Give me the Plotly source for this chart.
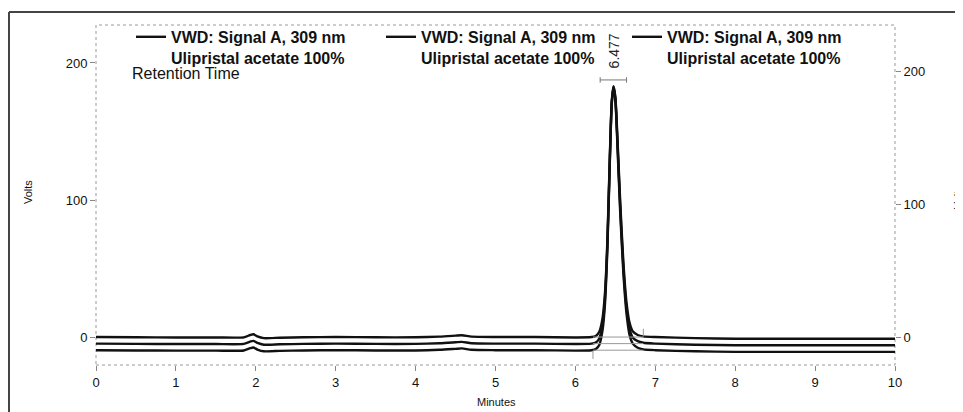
import plotly.graph_objects as go

# ---------------- data ----------------
time_min = [0.0, 0.5, 1.0, 1.5, 1.85, 1.93, 1.97, 2.02, 2.1, 2.3, 2.6, 3.0, 3.5, 4.0,
            4.3, 4.5, 4.58, 4.7, 5.0, 5.5, 6.0, 6.2, 6.26, 6.3, 6.34, 6.37, 6.40, 6.43,
            6.455, 6.477, 6.50, 6.53, 6.56, 6.60, 6.64, 6.68, 6.72, 6.78, 6.85, 7.0,
            7.5, 8.0, 9.0, 10.0]

signal_1 = [0.0, -0.2, -0.3, -0.3, -0.2, 1.5, 2.0, 0.5, -0.8, -0.5, -0.2, 0.0, -0.2, -0.2,
            0.3, 1.0, 1.3, 0.3, 0.0, 0.0, -0.3, 0.0, 1.0, 4.0, 14.0, 32.0, 70.0, 130.0,
            172.0, 183.0, 175.0, 140.0, 100.0, 55.0, 25.0, 10.0, 4.0, 1.5, 0.5, 0.0,
            -0.8, -1.2, -1.2, -1.2]

signal_2 = [-4.8, -5.0, -5.1, -5.1, -5.0, -3.3, -2.8, -4.3, -5.6, -5.3, -5.0, -4.8, -5.0, -5.0,
            -4.5, -3.8, -3.5, -4.5, -4.8, -4.8, -5.1, -4.8, -3.8, -0.8, 9.5, 28.0, 67.0, 128.0,
            171.0, 182.5, 174.0, 137.0, 96.0, 51.0, 21.0, 5.5, -0.5, -3.0, -4.2, -4.8,
            -5.6, -6.0, -6.0, -6.0]

signal_3 = [-9.6, -9.8, -9.9, -9.9, -9.8, -8.1, -7.6, -9.1, -10.4, -10.1, -9.8, -9.6, -9.8, -9.8,
            -9.3, -8.6, -8.3, -9.3, -9.6, -9.6, -9.9, -9.6, -8.6, -5.6, 5.0, 24.0, 64.0, 126.0,
            170.0, 182.0, 173.0, 134.0, 92.0, 47.0, 17.0, 1.0, -5.0, -7.8, -9.0, -9.6,
            -10.4, -10.8, -10.8, -10.8]

series_names = ["VWD: Signal A, 309 nm<br>Ulipristal acetate 100%"] * 3
peak_label = "6.477"
peak_time = 6.477
peak_bar = [6.31, 6.64]          # retention-time marker bar
integration_start, integration_end = 6.22, 6.85
x_ticks = [0, 1, 2, 3, 4, 5, 6, 7, 8, 9, 10]
y_ticks = [0, 100, 200]

FONT = "Liberation Sans, Arial, sans-serif"

fig = go.Figure()

legend_ids = ["legend", "legend2", "legend3"]
for sig, name, lg in zip([signal_1, signal_2, signal_3], series_names, legend_ids):
    fig.add_trace(go.Scatter(
        x=time_min, y=sig, mode="lines", name=name, legend=lg,
        line=dict(color="#111111", width=2.4, shape="spline", smoothing=0.6),
        hoverinfo="skip",
    ))

# invisible trace to attach the right-hand axis
fig.add_trace(go.Scatter(x=[0], y=[0], yaxis="y2", mode="markers",
                         marker=dict(opacity=0), showlegend=False, hoverinfo="skip"))

# integration baselines (thin gray)
for sig in [signal_1, signal_2, signal_3]:
    fig.add_trace(go.Scatter(
        x=[integration_start, integration_end], y=[sig[21], sig[39]],
        mode="lines", line=dict(color="#999999", width=1), showlegend=False, hoverinfo="skip"))
fig.add_trace(go.Scatter(x=[integration_start, integration_start], y=[-10, -16], mode="lines",
                         line=dict(color="#999999", width=1), showlegend=False, hoverinfo="skip"))
fig.add_trace(go.Scatter(x=[integration_end, integration_end], y=[0.5, 6], mode="lines",
                         line=dict(color="#999999", width=1), showlegend=False, hoverinfo="skip"))

# retention-time marker |---| with rotated label
fig.add_trace(go.Scatter(x=peak_bar, y=[187.6, 187.6], mode="lines",
                         line=dict(color="#777777", width=1), showlegend=False, hoverinfo="skip"))
for bx in peak_bar:
    fig.add_trace(go.Scatter(x=[bx, bx], y=[185.6, 189.6], mode="lines",
                             line=dict(color="#777777", width=1), showlegend=False, hoverinfo="skip"))
fig.add_annotation(x=peak_time, y=208.8, text=peak_label, textangle=-90, showarrow=False,
                   xanchor="center", yanchor="middle", font=dict(family=FONT, size=14, color="#222"))

fig.add_annotation(xref="paper", yref="paper", x=0.043, y=0.856, text="Retention Time",
                   showarrow=False, xanchor="left", yanchor="middle",
                   font=dict(family=FONT, size=16, color="#111"))

# axis titles
fig.add_annotation(xref="paper", yref="paper", x=0.5015, y=-0.108, text="Minutes",
                   showarrow=False, xanchor="center", yanchor="middle",
                   font=dict(family=FONT, size=11, color="#111"))
fig.add_annotation(xref="paper", yref="paper", x=-0.085, y=0.509, text="Volts",
                   textangle=-90, showarrow=False, xanchor="center", yanchor="middle",
                   font=dict(family=FONT, size=11, color="#111"))
fig.add_annotation(xref="paper", yref="paper", x=1.079, y=0.494, text="Volts",
                   textangle=-90, showarrow=False, xanchor="center", yanchor="middle",
                   font=dict(family=FONT, size=11, color="#111"))

# dashed frame of plot area
fig.add_shape(type="rect", xref="paper", yref="paper", x0=0, x1=1, y0=0, y1=1,
              line=dict(color="#9a9a9a", width=1, dash="dot"), layer="below")
# outer dark frame (top and left edges)
fig.add_shape(type="line", xref="paper", yref="paper", x0=-0.1089, x1=1.09, y0=1.038, y1=1.038,
              line=dict(color="#444444", width=2))
fig.add_shape(type="line", xref="paper", yref="paper", x0=-0.1089, x1=-0.1089, y0=1.038, y1=-0.16,
              line=dict(color="#444444", width=2))

legend_style = dict(orientation="h", yanchor="top", xanchor="left", valign="top",
                    font=dict(family=FONT, size=16, color="#111", weight="bold"),
                    bgcolor="rgba(0,0,0,0)", itemwidth=30)

fig.update_layout(
    width=963, height=412,
    margin=dict(l=88, r=76, t=17, b=55),
    paper_bgcolor="white", plot_bgcolor="white",
    font=dict(family=FONT, color="#111"),
    showlegend=True,
    legend=dict(x=0.0438, y=1.015, **legend_style),
    legend2=dict(x=0.3567, y=1.015, **legend_style),
    legend3=dict(x=0.6646, y=1.015, **legend_style),
    xaxis=dict(range=[0, 10], tickvals=x_ticks, showgrid=False, zeroline=False,
               showline=False, ticks="outside", ticklen=5, tickcolor="#888",
               tickfont=dict(size=13, color="#111"), automargin=False),
    yaxis=dict(range=[-20.4, 227.7], tickvals=y_ticks, showgrid=False, zeroline=False,
               showline=False, ticks="outside", ticklen=5, tickcolor="#888",
               tickfont=dict(size=13, color="#111"), automargin=False),
    yaxis2=dict(range=[-21.05, 234.6], tickvals=y_ticks, overlaying="y", side="right",
                showgrid=False, zeroline=False, showline=False, ticks="outside", ticklen=5,
                tickcolor="#888", tickfont=dict(size=13, color="#111"), automargin=False),
)

fig.write_html("out.html")
